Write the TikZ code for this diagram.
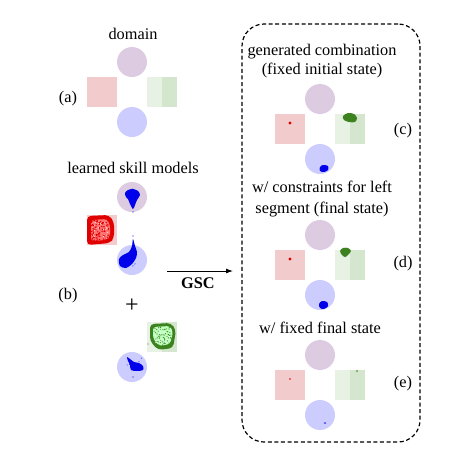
\documentclass[tikz,border=0pt]{standalone}
\usepackage{fontspec}
\setmainfont{Liberation Serif}
\usetikzlibrary{arrows.meta}
\definecolor{cpurple}{RGB}{221,203,226}
\definecolor{cblue}{RGB}{204,204,255}
\definecolor{cred}{RGB}{242,204,204}
\definecolor{cgreenA}{RGB}{232,242,228}
\definecolor{cgreenB}{RGB}{212,230,205}
\definecolor{dred}{RGB}{225,0,0}
\definecolor{dgreen}{RGB}{60,130,30}
\definecolor{dblue}{RGB}{0,0,235}
\newcommand\mydomain[2]{%
  \fill[cpurple] (#1,#2) circle[radius=15pt];
  \fill[cred] (#1-45,#2+15) rectangle (#1-15,#2+45);
  \fill[cgreenA] (#1+15,#2+15) rectangle (#1+30,#2+45);
  \fill[cgreenB] (#1+30,#2+15) rectangle (#1+45,#2+45);
  \fill[cblue] (#1,#2+60) circle[radius=15pt];
}
\begin{document}
\begin{tikzpicture}[x=1pt,y=-1pt,
  lbl/.style={anchor=base,inner sep=0pt,font=\fontsize{16.3}{19}\selectfont},
  boldlbl/.style={lbl,font=\fontsize{16.3}{19}\selectfont\bfseries},
  dashbox/.style={draw,dash pattern=on 4pt off 2.6pt,line width=1.2pt,rounded corners=22pt,inner sep=0pt},
  arr/.style={line width=0.9pt,-{Latex[length=7pt,width=5pt]}}]
\useasboundingbox (0,0) rectangle (452,451);
\pgfmathsetseed{7}

% ---------- (a) domain ----------
\node[lbl] (tdomain) at (133,39) {domain};
\mydomain{132}{62}
\node[lbl] (la) at (68,102) {(a)};

% ---------- (b) learned skill models ----------
\node[lbl] (tlearned) at (133,173) {learned skill models};
\fill[cpurple] (132,197) circle[radius=15pt];
\fill[cred] (87,215) rectangle (117,245);
\fill[cblue] (132,260) circle[radius=15pt];
\fill[cgreenA] (147,322) rectangle (162,352);
\fill[cgreenB] (162,322) rectangle (177,352);
\fill[cblue] (132,367) circle[radius=15pt];
% red cloud
\fill[dred,rounded corners=4pt] (87,216) -- (109,215) -- (114,222) -- (114,238) -- (110,243) -- (87,245) -- cycle;
\fill[red!55!white,rounded corners=3pt] (91,220) -- (107,219) -- (110,225) -- (110,236) -- (107,240) -- (91,241) -- cycle;
\foreach \i in {1,...,110}{\fill[dred] ({91+19*rnd},{219+22*rnd}) circle[radius=0.7pt];}
\foreach \i in {1,...,30}{\fill[white] ({92+16*rnd},{221+18*rnd}) circle[radius=0.5pt];}
% green cloud
\fill[dgreen,rounded corners=4pt] (150,324) -- (171,323) -- (176,330) -- (173,348) -- (158,350) -- (150,341) -- cycle;
\fill[green!25!white,rounded corners=3pt] (153,327) -- (170,326) -- (173,332) -- (170,344) -- (159,346) -- (153,338) -- cycle;
\foreach \i in {1,...,60}{\fill[dgreen] ({154+18*rnd},{327+18*rnd}) circle[radius=0.6pt];}
\foreach \i in {1,...,20}{\fill[white] ({155+15*rnd},{329+14*rnd}) circle[radius=0.5pt];}
\fill[dgreen] (148,344) circle[radius=0.6pt];
% blue clouds
\fill[dblue] plot[smooth cycle] coordinates {(125,193) (128,190) (133,189) (138,191) (140,195) (137,200) (135,205) (133,209) (130,204) (128,199) (126,197)};
\foreach \i in {1,...,14}{\fill[dblue] ({125+14*rnd},{189+10*rnd}) circle[radius=0.6pt];}
\fill[dblue] (133,212) circle[radius=0.6pt];
\fill[dblue] plot[smooth cycle] coordinates {(133,239) (135,246) (137,252) (136,258) (132,264) (126,268) (120,266) (119,259) (123,255) (129,252) (132,246)};
\foreach \i in {1,...,12}{\fill[dblue] ({119+16*rnd},{254+14*rnd}) circle[radius=0.6pt];}
\fill[dblue] (133,236) circle[radius=0.6pt];
\fill[dblue] plot[smooth cycle] coordinates {(127,357) (130,359) (134,362) (139,363) (143,366) (143,370) (137,371) (131,370) (130,365) (128,361)};
\foreach \i in {1,...,10}{\fill[dblue] ({127+16*rnd},{358+13*rnd}) circle[radius=0.5pt];}
\fill[dblue] (133,377) circle[radius=0.6pt];
\node[lbl,font=\fontsize{24}{26}\selectfont] (plus) at (132,312) {+};
\node[lbl] (lb) at (68,299) {(b)};

% ---------- arrow ----------
\node[dashbox,minimum width=178pt,minimum height=418pt] (box) at (331,233) {};
\coordinate (arrs) at (167,271);
\coordinate (arre) at (233,271);
\draw[arr] (arrs) -- (arre);
\node[boldlbl] (gsc) at (198,288) {GSC};

% ---------- (c) ----------
\node[lbl] (tc1) at (322,55) {generated combination};
\node[lbl] (tc2) at (322,74) {(fixed initial state)};
\mydomain{320}{99}
\fill[dred] (290,123) circle[radius=1.6pt];
\fill[dgreen] plot[smooth cycle] coordinates {(343,116) (348,113) (354,114) (357,118) (355,122) (349,122) (344,120)};
\fill[dblue] plot[smooth cycle] coordinates {(320,167) (323,165) (328,166) (328,170) (324,172) (320,171)};
\node[lbl] (lc) at (403,134) {(c)};

% ---------- (d) ----------
\node[lbl] (td1) at (322,192) {w/ constraints for left};
\node[lbl] (td2) at (322,213) {segment (final state)};
\mydomain{320}{235}
\fill[dred] (290,259) circle[radius=1.6pt];
\fill[dgreen] plot[smooth cycle] coordinates {(340,251) (343,248) (348,248) (351,251) (348,255) (345,257) (342,255)};
\fill[dblue] plot[smooth cycle] coordinates {(319,304) (322,301) (327,302) (328,306) (324,309) (320,308)};
\node[lbl] (ld) at (403,267) {(d)};

% ---------- (e) ----------
\node[lbl] (te1) at (320,333) {w/ fixed final state};
\mydomain{320}{355}
\fill[dred] (290,379) circle[radius=0.8pt];
\fill[dgreen] (357,371) ellipse[x radius=0.7pt,y radius=1.4pt];
\fill[dblue] (325,423) ellipse[x radius=1.4pt,y radius=0.6pt];
\node[lbl] (le) at (403,387) {(e)};
\end{tikzpicture}
\end{document}
